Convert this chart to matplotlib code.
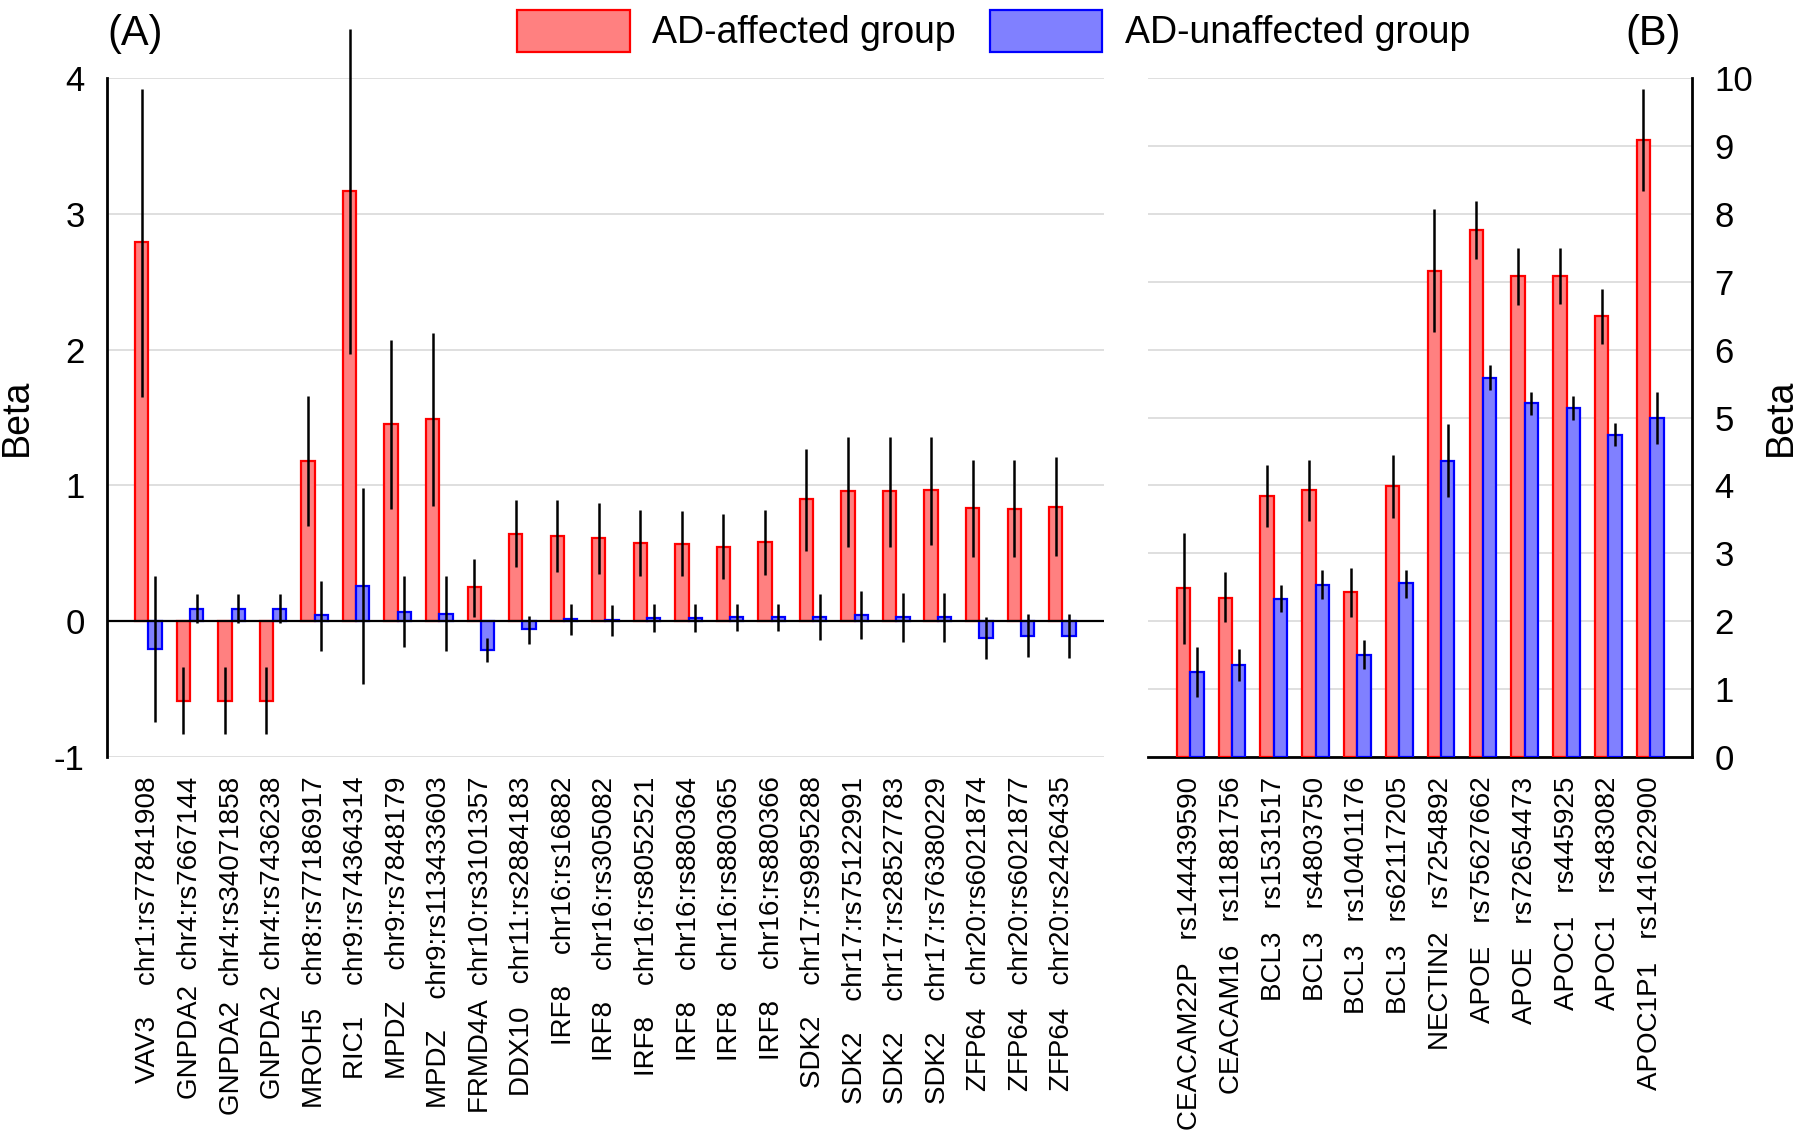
import numpy as np
import matplotlib
matplotlib.use("Agg")
import matplotlib.pyplot as plt
from matplotlib.patches import Patch

plt.rcParams['font.family'] = ['Liberation Sans', 'DejaVu Sans']

# ---------------- Panel A data ----------------
genes_A = ["VAV3", "GNPDA2", "GNPDA2", "GNPDA2", "MROH5", "RIC1", "MPDZ", "MPDZ",
           "FRMD4A", "DDX10", "IRF8", "IRF8", "IRF8", "IRF8", "IRF8", "IRF8",
           "SDK2", "SDK2", "SDK2", "SDK2", "ZFP64", "ZFP64", "ZFP64"]
snps_A = ["chr1:rs77841908", "chr4:rs7667144", "chr4:rs34071858", "chr4:rs7436238",
          "chr8:rs77186917", "chr9:rs74364314", "chr9:rs7848179", "chr9:rs113433603",
          "chr10:rs3101357", "chr11:rs2884183", "chr16:rs16882", "chr16:rs305082",
          "chr16:rs8052521", "chr16:rs880364", "chr16:rs880365", "chr16:rs880366",
          "chr17:rs9895288", "chr17:rs75122991", "chr17:rs28527783", "chr17:rs76380229",
          "chr20:rs6021874", "chr20:rs6021877", "chr20:rs2426435"]
aff_A = [2.79, -0.59, -0.59, -0.59, 1.18, 3.17, 1.45, 1.49, 0.25, 0.645, 0.63, 0.61,
         0.575, 0.57, 0.55, 0.58, 0.90, 0.956, 0.956, 0.963, 0.835, 0.83, 0.84]
aff_lo_A = [1.65, -0.83, -0.83, -0.83, 0.70, 1.97, 0.83, 0.85, 0.03, 0.40, 0.36, 0.35,
            0.33, 0.33, 0.31, 0.34, 0.52, 0.55, 0.55, 0.56, 0.47, 0.47, 0.48]
aff_hi_A = [3.92, -0.34, -0.34, -0.34, 1.66, 4.36, 2.07, 2.12, 0.46, 0.89, 0.89, 0.87,
            0.82, 0.81, 0.79, 0.82, 1.27, 1.355, 1.355, 1.36, 1.19, 1.19, 1.21]
un_A = [-0.205, 0.09, 0.09, 0.09, 0.044, 0.26, 0.066, 0.05, -0.21, -0.06, 0.015, 0.01,
        0.026, 0.026, 0.033, 0.033, 0.033, 0.048, 0.03, 0.03, -0.125, -0.11, -0.11]
un_lo_A = [-0.74, -0.01, -0.01, -0.01, -0.22, -0.46, -0.19, -0.22, -0.30, -0.17, -0.10,
           -0.11, -0.08, -0.08, -0.07, -0.07, -0.14, -0.13, -0.15, -0.15, -0.28, -0.26, -0.27]
un_hi_A = [0.33, 0.20, 0.20, 0.20, 0.30, 0.98, 0.33, 0.33, -0.12, 0.04, 0.13, 0.12,
           0.13, 0.13, 0.13, 0.13, 0.20, 0.22, 0.205, 0.205, 0.033, 0.05, 0.05]

# ---------------- Panel B data ----------------
genes_B = ["CEACAM22P", "CEACAM16", "BCL3", "BCL3", "BCL3", "BCL3", "NECTIN2",
           "APOE", "APOE", "APOC1", "APOC1", "APOC1P1"]
snps_B = ["rs144439590", "rs11881756", "rs1531517", "rs4803750", "rs10401176",
          "rs62117205", "rs7254892", "rs75627662", "rs72654473", "rs445925",
          "rs483082", "rs141622900"]
aff_B = [2.49, 2.35, 3.85, 3.93, 2.43, 3.99, 7.16, 7.76, 7.08, 7.08, 6.49, 9.09]
aff_lo_B = [1.67, 1.99, 3.39, 3.47, 2.07, 3.52, 6.26, 7.33, 6.66, 6.67, 6.08, 8.34]
aff_hi_B = [3.30, 2.72, 4.30, 4.38, 2.78, 4.45, 8.07, 8.19, 7.49, 7.49, 6.89, 9.84]
un_B = [1.25, 1.355, 2.33, 2.54, 1.51, 2.56, 4.36, 5.58, 5.21, 5.14, 4.75, 5.0]
un_lo_B = [0.88, 1.12, 2.13, 2.33, 1.29, 2.34, 3.83, 5.40, 5.03, 4.97, 4.58, 4.61]
un_hi_B = [1.62, 1.59, 2.53, 2.75, 1.73, 2.76, 4.90, 5.77, 5.38, 5.32, 4.92, 5.38]

legend_labels = ["AD-affected group", "AD-unaffected group"]

RED_FILL, RED_EDGE = "#FF8080", "#FF0000"
BLUE_FILL, BLUE_EDGE = "#8080FF", "#0000FF"
GRID = "#D9D9D9"

fig = plt.figure(figsize=(18, 11.3), dpi=100)
axA = fig.add_axes([0.0594, 0.330, 0.5539, 0.601])
axB = fig.add_axes([0.638, 0.330, 0.302, 0.601])

W = 0.32
TICK_FS = 25
XT_FS = 20


def draw(ax, aff, alo, ahi, un, ulo, uhi):
    x = np.arange(len(aff))
    aff = np.array(aff); un = np.array(un)
    ax.bar(x - W / 2, aff, W, color=RED_FILL, edgecolor=RED_EDGE, linewidth=1.6, zorder=3)
    ax.bar(x + W / 2, un, W, color=BLUE_FILL, edgecolor=BLUE_EDGE, linewidth=1.6, zorder=3)
    ax.errorbar(x - W / 2, aff, yerr=[aff - np.array(alo), np.array(ahi) - aff],
                fmt='none', ecolor='black', elinewidth=1.8, capsize=0, zorder=4, clip_on=False)
    ax.errorbar(x + W / 2, un, yerr=[un - np.array(ulo), np.array(uhi) - un],
                fmt='none', ecolor='black', elinewidth=1.8, capsize=0, zorder=4, clip_on=False)
    ax.set_xlim(-1, len(aff))
    ax.set_xticks(x)
    ax.yaxis.grid(True, color=GRID, linewidth=1.2, zorder=0)
    ax.set_axisbelow(True)
    for s in ax.spines.values():
        s.set_visible(False)
    return x


# Panel A
xA = draw(axA, aff_A, aff_lo_A, aff_hi_A, un_A, un_lo_A, un_hi_A)
axA.set_ylim(-1, 4)
axA.set_yticks([-1, 0, 1, 2, 3, 4])
axA.set_yticklabels(["-1", "0", "1", "2", "3", "4"])
axA.axhline(0, color='black', linewidth=1.6, zorder=5)
axA.spines['left'].set_visible(True)
axA.spines['left'].set_linewidth(2)
labels_A = [g.ljust(6) + "  " + s for g, s in zip(genes_A, snps_A)]
axA.set_xticklabels(labels_A, rotation=90, fontsize=XT_FS, va='top', ha='center')
axA.tick_params(axis='x', length=0, pad=14)
axA.tick_params(axis='y', length=0, pad=16, labelsize=TICK_FS)
axA.set_ylabel("Beta", fontsize=27, labelpad=14)
axA.text(0.0, 1.035, "(A)", transform=axA.transAxes, fontsize=30, ha='left', va='bottom')

# Panel B
xB = draw(axB, aff_B, aff_lo_B, aff_hi_B, un_B, un_lo_B, un_hi_B)
axB.set_ylim(0, 10)
axB.set_yticks(range(0, 11))
axB.spines['right'].set_visible(True)
axB.spines['right'].set_linewidth(2)
axB.spines['bottom'].set_visible(True)
axB.spines['bottom'].set_linewidth(2)
axB.yaxis.tick_right()
axB.yaxis.set_label_position("right")
labels_B = [g + "   " + s for g, s in zip(genes_B, snps_B)]
axB.set_xticklabels(labels_B, rotation=90, fontsize=XT_FS, va='top', ha='center')
axB.tick_params(axis='x', length=0, pad=14)
axB.tick_params(axis='y', length=0, pad=16, labelsize=TICK_FS)
axB.set_ylabel("Beta", fontsize=27, labelpad=7)
axB.text(0.98, 1.035, "(B)", transform=axB.transAxes, fontsize=30, ha='right', va='bottom')

handles = [Patch(facecolor=RED_FILL, edgecolor=RED_EDGE, linewidth=1.6),
           Patch(facecolor=BLUE_FILL, edgecolor=BLUE_EDGE, linewidth=1.6)]
fig.legend(handles, legend_labels, loc='upper center', bbox_to_anchor=(0.552, 1.008),
           ncol=2, frameon=False, fontsize=27, handlelength=3.0, handleheight=1.35,
           handletextpad=0.6, columnspacing=0.9, borderaxespad=0.1)

fig.savefig("out.png", dpi=100)
